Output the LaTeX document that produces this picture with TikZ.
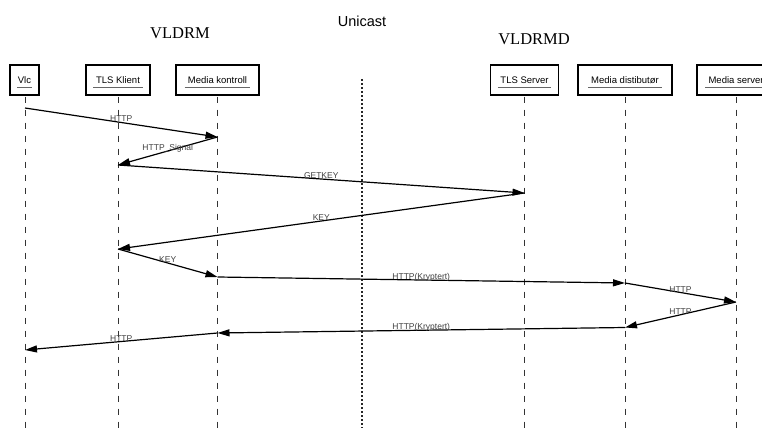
\documentclass[tikz,border=0pt]{standalone}
\usepackage{fontspec}
\setmainfont{Liberation Sans}
\newfontfamily\seriffont{Liberation Serif}
\usetikzlibrary{arrows.meta}
\begin{document}
\begin{tikzpicture}[x=1pt,y=-1pt,
  actor/.style={draw=black, line width=1.4pt, minimum height=30pt, inner sep=0pt, fill=white},
  actortext/.style={font=\fontsize{9.5}{11}\selectfont, inner sep=0pt, anchor=base},
  uline/.style={draw=black!60, line width=0.8pt},
  life/.style={draw=black!80, line width=0.9pt, dash pattern=on 6pt off 7pt},
  divider/.style={draw=black!85, line width=1.5pt, dash pattern=on 2pt off 2pt},
  msg/.style={draw=black, line width=1.2pt, -{Triangle[length=12pt,width=7pt]}},
  lbl/.style={font=\fontsize{8.5}{10}\selectfont, text=black!75, inner sep=0pt, anchor=base, yshift=0.5pt},
  titleserif/.style={font=\seriffont\fontsize{16.5}{18}\selectfont, inner sep=0pt},
  titlesans/.style={font=\fontsize{14.5}{16}\selectfont, inner sep=0pt},
]
\useasboundingbox (0,0) rectangle (762,430);

% titles
\node[titleserif] (t1) at (180,33.5) {VLDRM};
\node[titlesans] (t2) at (362,21.5) {Unicast};
\node[titleserif] (t3) at (534,39) {VLDRMD};

% actors
\node[actor, minimum width=29pt] (vlc) at (24.5,80) {};
\node[actor, minimum width=64pt] (tk) at (118,80) {};
\node[actor, minimum width=83pt] (mk) at (217.5,80) {};
\node[actor, minimum width=68pt] (ts) at (524.5,80) {};
\node[actor, minimum width=94pt] (md) at (625,80) {};
\node[actor, minimum width=78pt] (ms) at (736,80) {};

\node[actortext] (vlct) at (24.5,84) {Vlc};
\node[actortext] (tkt) at (118,84) {TLS Klient};
\node[actortext] (mkt) at (217.5,84) {Media kontroll};
\node[actortext] (tst) at (524.5,84) {TLS Server};
\node[actortext] (mdt) at (625,84) {Media distibutør};
\node[actortext] (mst) at (736,84) {Media server};

\foreach \n/\e in {vlct/0.5,tkt/2.5,mkt/3,tst/2.5,mdt/3,mst/3}{
  \draw[uline] ([xshift=-\e pt,yshift=-3.5pt]\n.base west) -- ([xshift=\e pt,yshift=-3.5pt]\n.base east);
}

% lifelines
\coordinate (vlcE) at (25,430);
\coordinate (tkE) at (118,430);
\coordinate (mkE) at (217.5,430);
\coordinate (tsE) at (524.5,430);
\coordinate (mdE) at (625,430);
\coordinate (msE) at (736,430);
\draw[life] ([yshift=-1pt]vlc.south) ++(0.5,0) -- (vlcE);
\draw[life] ([yshift=-1pt]tk.south) -- (tkE);
\draw[life] ([yshift=-1pt]mk.south) -- (mkE);
\draw[life] ([yshift=-1pt]ts.south) -- (tsE);
\draw[life] ([yshift=-1pt]md.south) -- (mdE);
\draw[life] ([yshift=-1pt]ms.south) -- (msE);

% divider
\coordinate (dA) at (362,79);
\coordinate (dB) at (362,428);
\draw[divider] (dA) -- (dB);

% message points
\coordinate (vlc1) at (25,108);
\coordinate (mk1) at (217.5,137);
\coordinate (tk1) at (118,165);
\coordinate (ts1) at (524.5,193);
\coordinate (tk2) at (118,249);
\coordinate (mk2) at (217.5,277);
\coordinate (md1) at (625,283);
\coordinate (ms1) at (736,302);
\coordinate (md2) at (625,327.5);
\coordinate (mk3) at (217.5,333);
\coordinate (vlc2) at (25,350);

% messages
\draw[msg] (vlc1) -- node[lbl] {HTTP} (mk1);
\draw[msg] (mk1) -- node[lbl] {HTTP\_Signal} (tk1);
\draw[msg] (tk1) -- node[lbl] {GETKEY} (ts1);
\draw[msg] (ts1) -- node[lbl] {KEY} (tk2);
\draw[msg] (tk2) -- node[lbl] {KEY} (mk2);
\draw[msg] (mk2) -- node[lbl] {HTTP(Kryptert)} (md1);
\draw[msg] (md1) -- node[lbl] {HTTP} (ms1);
\draw[msg] (ms1) -- node[lbl] {HTTP} (md2);
\draw[msg] (md2) -- node[lbl] {HTTP(Kryptert)} (mk3);
\draw[msg] (mk3) -- node[lbl] {HTTP} (vlc2);
\end{tikzpicture}
\end{document}
